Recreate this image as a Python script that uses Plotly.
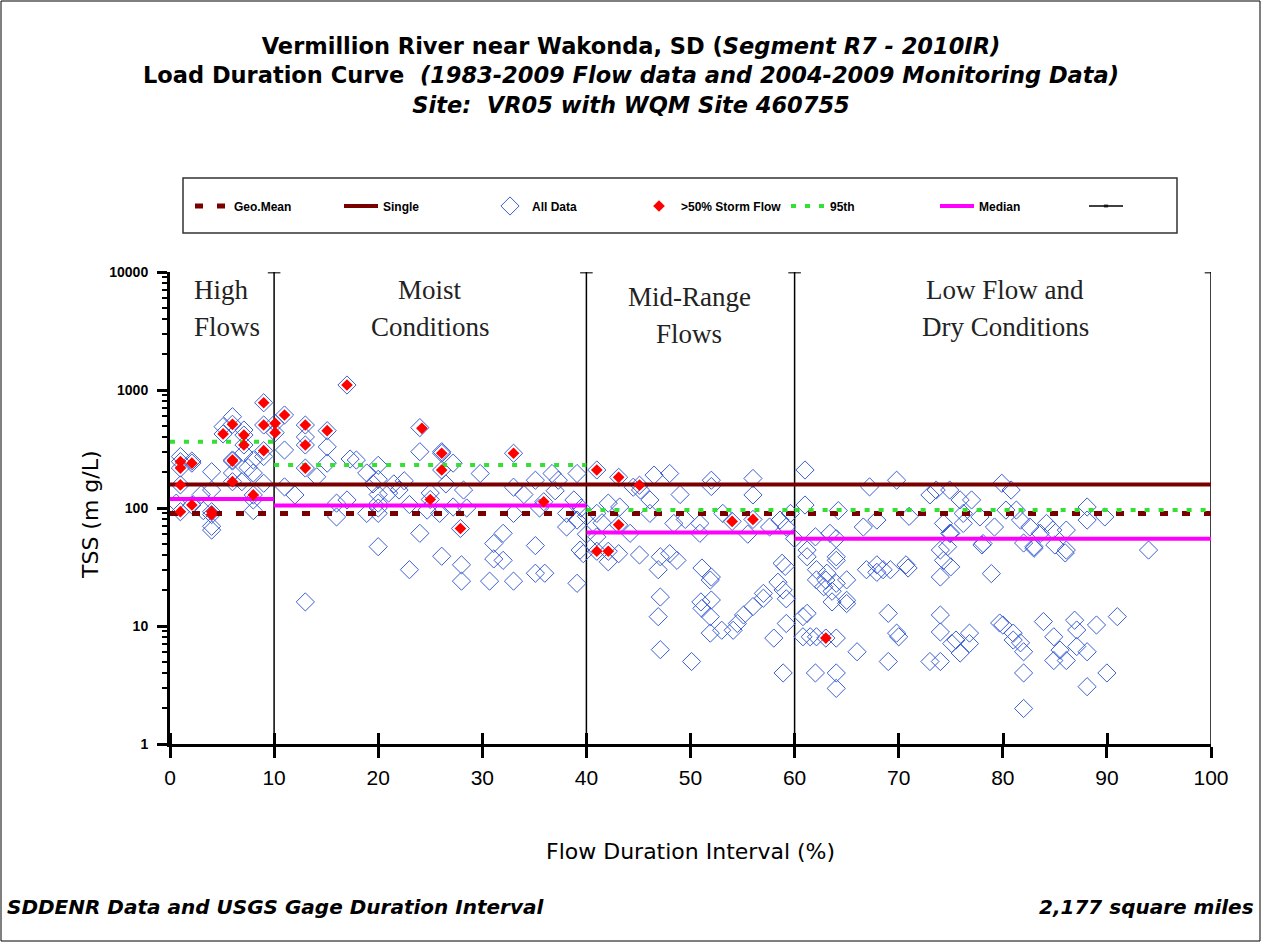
import plotly.graph_objects as go

# ---------------- data ----------------
zone_edges = [0, 10, 40, 60, 100]
zone_label_lines = [["High", "Flows"], ["Moist", "Conditions"], ["Mid-Range", "Flows"], ["Low Flow and", "Dry Conditions"]]
y_range = [1, 10000]
y_tickvals = [1, 10, 100, 1000, 10000]
y_ticktext = ["1", "10", "100", "1000", "10000"]
x_tickvals = [0, 10, 20, 30, 40, 50, 60, 70, 80, 90, 100]

geo_mean = 90
single_sample = 158
p95 = [365, 231, 96, 96]
median = [119, 105, 62, 55]

# All Data (open diamonds)
all_x = [
    # high flows
    1, 1, 1, 1, 1, 0.6, 2.1, 2.1, 2.1, 3, 3.2, 4, 4, 4, 4, 4, 4, 5.1, 5.1, 6, 6, 6, 6, 6, 6,
    7.1, 7.1, 7.1, 7.1, 6.9, 7.5, 8, 8, 8, 8, 8, 9, 9, 9, 9, 9, 10.1, 10.1,
    # moist
    11, 11, 11, 12, 13, 13, 13, 13, 13, 14.1, 15.1, 15.1, 15.1, 16, 16, 17, 17, 17.3, 17.9,
    18.9, 18.9, 19.5, 20, 20, 20, 20, 20, 20, 20, 21, 21.5, 22, 22.5, 23, 23, 24, 24, 24,
    24.7, 25, 25, 25.9, 26.1, 26.1, 26.1, 26.1, 26.5, 27.2, 27.2, 27.9, 28, 28, 28.2, 28.5,
    29.8, 30.7, 31.1, 31.1, 32, 32, 33, 33, 33, 33, 34, 35.1, 35.1, 35.1, 35.5, 36, 35.9,
    36.7, 37.3, 37, 38.1, 38.1, 38.8, 39.1, 39.1, 39.1, 39.4, 39.7, 39.5, 40, 40,
    # mid-range
    41, 41, 41, 41, 41.5, 42.1, 42.1, 42.1, 43.1, 43.2, 43.1, 43.1, 44.2, 44.5, 45.1, 45.2,
    45.1, 46.1, 46.1, 46.5, 46.9, 47.1, 47.1, 46.9, 47.1, 48, 48, 48.4, 48.7, 49, 49.5, 50.1,
    50.9, 50.9, 51.1, 51, 51.1, 51.9, 52, 52, 52, 52, 51.9, 51.9, 53, 53.1, 54, 54.1, 54.5,
    55.1, 55.5, 56, 56, 56, 56, 57, 57, 57.6, 58, 58.4, 58.6, 58.9, 58.8, 59.1, 58.9, 59.2,
    59.2, 59.2, 59.6, 60,
    # low flow
    60.8, 60.8, 61, 61, 61.2, 61.2, 61.2, 61.5, 62, 62.1, 62.1, 62.1, 62, 62.8, 63, 63.1, 63,
    63.4, 63.6, 63.6, 64, 64, 64, 64, 64, 64, 64, 64.2, 65, 65, 65, 66, 66.6, 66.9, 67.2,
    67.9, 67.9, 67.9, 68.5, 69, 69, 69.2, 69.8, 69.8, 70, 70.7, 70.9, 71, 73, 73, 73.6, 74,
    74, 74, 74, 74, 74.3, 74.3, 74.7, 74.9, 74.9, 75, 75, 75.1, 75.5, 75.9, 75.9, 76.2, 76.2,
    76.8, 76.8, 77, 77.8, 78, 78.1, 78.9, 79.2, 79.7, 79.9, 80, 80.3, 80.8, 81, 81, 81.3,
    81.7, 81.7, 82, 82, 82, 82, 82.6, 83, 83, 83.6, 83.9, 84.2, 84.8, 84.9, 84.9, 85, 85.5,
    86, 86.1, 86.1, 86.1, 86.9, 87.1, 87.1, 88.1, 88.1, 88.1, 88.1, 89, 89.8, 90, 91, 94,
]
all_y = [
    # high flows
    273, 247, 218, 157, 93, 110, 250, 240, 106, 130, 95, 203, 142, 93, 88, 65, 70, 489, 424,
    594, 512, 255, 250, 198, 167, 458, 415, 342, 292, 167, 220, 255, 198, 129, 117, 95, 780,
    505, 306, 273, 162, 522, 435,
    # moist
    614, 310, 151, 129, 505, 400, 342, 218, 16, 184, 452, 330, 240, 84, 110, 1102, 117, 260,
    255, 198, 90, 160, 230, 175, 130, 110, 100, 90, 47, 134, 160, 142, 170, 107, 30, 480, 300,
    61, 96, 134, 118, 90, 300, 291, 210, 39, 160, 240, 102, 67, 33, 24, 142, 100, 196, 24, 50,
    37, 61, 36, 291, 150, 90, 24, 130, 172, 48, 28, 100, 28, 113, 196, 172, 140, 90, 69, 117,
    196, 79, 23, 44, 41, 100, 60, 85,
    # mid-range
    210, 90, 57, 43, 75, 110, 43, 35, 182, 102, 72, 41, 61, 150, 156, 142, 40, 117, 90, 190,
    30, 38.6, 17.6, 12, 6.3, 196, 41, 74, 36, 130, 80, 5.0, 74, 61, 31, 16, 14.1, 24.5, 172,
    152, 26, 16.6, 12, 8.7, 9.2, 90, 77, 9.2, 10.5, 12.4, 60, 178, 129, 80, 14.6, 17.2, 18.9,
    69, 7.9, 23.5, 79, 20.2, 34, 32, 4.0, 69, 17, 10.5, 90, 55,
    # low flow
    12, 8.1, 210, 106, 44, 38.6, 12.8, 8.1, 57, 30, 24.6, 8.1, 4.0, 21.5, 24.5, 28, 7.9, 61,
    19.7, 16, 55, 38.6, 36, 23, 7.9, 4.0, 2.96, 95, 15.5, 24.6, 16.5, 6.05, 69, 30, 151, 79,
    28.5, 33, 30, 12.8, 5.0, 30, 172, 8.7, 8.1, 33, 31, 85, 129, 5.0, 142, 44, 26, 12.4, 8.9,
    5.0, 74, 36, 47, 142, 61, 61, 31.7, 7.1, 7.6, 117, 5.9, 90, 74, 8.7, 7.1, 117, 84, 48.6,
    50, 27.8, 69, 10.6, 162, 10.2, 96, 142, 8.7, 7.6, 96, 79, 7.2, 50.5, 6.05, 4.0, 2.0, 69,
    45.6, 47, 61, 10.9, 74, 65, 8.1, 5.1, 48.6, 6.25, 41.6, 65, 44, 5.1, 11.2, 9.25, 6.7,
    102, 79, 6.05, 3.06, 10.2, 84, 4.0, 12.0, 44,
]

# >50% Storm Flow (filled red diamonds)
storm_x = [1, 1, 1, 1, 2.1, 2.1, 4, 4, 5.1, 6, 6, 6, 6, 7.1, 7.1, 8, 9, 9, 9, 10.1, 10.1,
           11, 13, 13, 13, 15.1, 17, 24.2, 25, 26.1, 26.1, 27.9, 33, 35.9,
           41, 41, 42.1, 43.1, 43.1, 45.1, 54, 56, 63]
storm_y = [247, 218, 157, 93, 240, 106, 93, 88, 424, 512, 255, 250, 167, 415, 342, 129, 780,
           505, 306, 522, 435,
           614, 505, 342, 218, 452, 1102, 473, 118, 291, 210, 67, 291, 113,
           210, 43, 43, 182, 72, 156, 77, 80, 7.9]

# ---------------- layout constants ----------------
W, H = 1262, 943
ML, MR, MT, MB = 170, 51, 272, 199
PW, PH = W - ML - MR, H - MT - MB


def px_to_paper_x(px):
    return (px - ML) / PW


def px_to_paper_y(py):
    return (H - MB - py) / PH


def zone_steps(vals):
    xs, ys = [], []
    for i, v in enumerate(vals):
        xs += [zone_edges[i], zone_edges[i + 1], None]
        ys += [v, v, None]
    return xs, ys


COMIC = "DejaVu Sans, Noto Sans, sans-serif"
ARIAL = "Liberation Sans, Arial, sans-serif"
SERIF = "Liberation Serif, DejaVu Serif, serif"

fig = go.Figure()

# zone dividers
div_x, div_y, div_s = [], [], []
for e in zone_edges[1:]:
    div_x += [e, e, None]
    div_y += [y_range[0], y_range[1], None]
    div_s += [0, 9, 0]
fig.add_trace(go.Scatter(
    x=div_x, y=div_y, mode="lines+markers", name=" ",
    line=dict(color="black", width=1.5),
    marker=dict(symbol="line-ew", size=div_s, line=dict(color="black", width=3)),
    legendrank=7, hoverinfo="skip"))

# all data
fig.add_trace(go.Scatter(
    x=all_x, y=all_y, mode="markers", name="All Data",
    marker=dict(symbol="diamond-open", size=14, color="#3B5FD3", line=dict(width=1, color="#3B5FD3")),
    legendrank=3))

# geo mean
fig.add_trace(go.Scatter(
    x=[zone_edges[0], zone_edges[-1]], y=[geo_mean, geo_mean], mode="lines", name="Geo.Mean",
    line=dict(color="#7A0000", width=5, dash="8px,14px"), legendrank=1))

# single sample
fig.add_trace(go.Scatter(
    x=[zone_edges[0], zone_edges[-1]], y=[single_sample, single_sample], mode="lines", name="Single",
    line=dict(color="#7A0000", width=4), legendrank=2))

# 95th
px95, py95 = zone_steps(p95)
fig.add_trace(go.Scatter(
    x=px95, y=py95, mode="lines", name="95th",
    line=dict(color="#33E033", width=4, dash="5px,9px"), legendrank=5))

# median
pxm, pym = zone_steps(median)
fig.add_trace(go.Scatter(
    x=pxm, y=pym, mode="lines", name="Median",
    line=dict(color="#FF00FF", width=4), legendrank=6))

# storm flow
fig.add_trace(go.Scatter(
    x=storm_x, y=storm_y, mode="markers", name="&gt;50% Storm Flow",
    marker=dict(symbol="diamond", size=9, color="#FF0000", line=dict(width=0)),
    legendrank=4))

minor_vals = [m * 10 ** k for k in range(0, 4) for m in range(2, 10)]
x_cross_vals = [v + 0.02 for v in x_tickvals if v < x_tickvals[-1]]

fig.update_layout(
    width=W, height=H,
    margin=dict(l=ML, r=MR, t=MT, b=MB),
    paper_bgcolor="white", plot_bgcolor="white",
    title=dict(
        text=("<b>Vermillion River near Wakonda, SD (<i>Segment R7 - 2010IR)</i></b><br>"
              "<b>Load Duration Curve  <i>(1983-2009 Flow data and 2004-2009 Monitoring Data)</i></b><br>"
              "<b><i>Site:  VR05 with WQM Site 460755</i></b>"),
        x=0.5, xref="container", xanchor="center",
        y=1 - 54 / H, yref="container", yanchor="top",
        pad=dict(t=0, b=0),
        font=dict(family=COMIC, size=22.5, color="black")),
    showlegend=True,
    legend=dict(
        orientation="h", x=px_to_paper_x(190), y=px_to_paper_y(206),
        xanchor="left", yanchor="middle",
        font=dict(family=ARIAL, size=12, color="black", weight="bold"),
        itemwidth=34, entrywidth=100, bgcolor="rgba(0,0,0,0)", borderwidth=0),
    xaxis=dict(
        range=[zone_edges[0], zone_edges[-1]], tickvals=x_tickvals,
        showgrid=False, zeroline=False, showline=True, linecolor="black", linewidth=3,
        ticks="outside", ticklen=11, tickwidth=2.5, tickcolor="black",
        ticklabelstandoff=2,
        tickfont=dict(family=ARIAL, size=21, color="black"),
        minor=dict(tickmode="array", tickvals=x_cross_vals, ticks="inside", ticklen=11,
                   tickwidth=2.5, tickcolor="black", showgrid=False)),
    yaxis=dict(
        type="log", range=[0, 4], tickvals=y_tickvals, ticktext=y_ticktext,
        showgrid=False, zeroline=False, showline=True, linecolor="black", linewidth=3,
        ticks="outside", ticklen=10, tickwidth=3, tickcolor="black",
        ticklabelstandoff=6,
        tickfont=dict(family=ARIAL, size=14, color="black", weight="bold"),
        minor=dict(tickmode="array", tickvals=minor_vals, ticks="outside", ticklen=5,
                   tickwidth=2, tickcolor="black", showgrid=False)),
)

annotations = [
    dict(text="TSS (m g/L)", x=px_to_paper_x(90), y=px_to_paper_y(515), xref="paper", yref="paper",
         xanchor="center", yanchor="middle",
         textangle=-90, showarrow=False, font=dict(family=COMIC, size=22, color="black")),
    dict(text="Flow Duration Interval (%)", x=0.5, y=px_to_paper_y(851), xref="paper", yref="paper",
         xanchor="center", yanchor="middle",
         showarrow=False, font=dict(family=COMIC, size=22, color="black")),
    dict(text="<b><i>SDDENR Data and USGS Gage Duration Interval</i></b>", x=px_to_paper_x(5),
         y=px_to_paper_y(907), xref="paper", yref="paper", xanchor="left", yanchor="middle",
         showarrow=False, font=dict(family=COMIC, size=20, color="black")),
    dict(text="<b><i>2,177 square miles</i></b>", x=px_to_paper_x(1256),
         y=px_to_paper_y(907), xref="paper", yref="paper", xanchor="right", yanchor="middle",
         showarrow=False, font=dict(family=COMIC, size=20, color="black")),
]
label_pos = [(192, 290, "left"), (430, 290, "center"), (689, 297, "center"), (1005, 290, "center")]
for lines, (lx, ly, al) in zip(zone_label_lines, label_pos):
    for k, line in enumerate(lines):
        annotations.append(dict(
            text=line, x=px_to_paper_x(lx), y=px_to_paper_y(ly + 37 * k), xref="paper", yref="paper",
            xanchor="left" if al == "left" else "center", yanchor="middle",
            showarrow=False, font=dict(family=SERIF, size=27, color="#222222")))
fig.update_layout(annotations=annotations)

shapes = [
    # legend frame
    dict(type="rect", xref="paper", yref="paper",
         x0=px_to_paper_x(183), x1=px_to_paper_x(1177), y0=px_to_paper_y(233), y1=px_to_paper_y(178),
         line=dict(color="#333333", width=1.5), fillcolor="rgba(0,0,0,0)", layer="above"),
    # outer frame
    dict(type="rect", xref="paper", yref="paper",
         x0=px_to_paper_x(1), x1=px_to_paper_x(W - 2), y0=px_to_paper_y(H - 2), y1=px_to_paper_y(1),
         line=dict(color="black", width=1), fillcolor="rgba(0,0,0,0)", layer="above"),
]
fig.update_layout(shapes=shapes)

fig.write_html("out.html")
